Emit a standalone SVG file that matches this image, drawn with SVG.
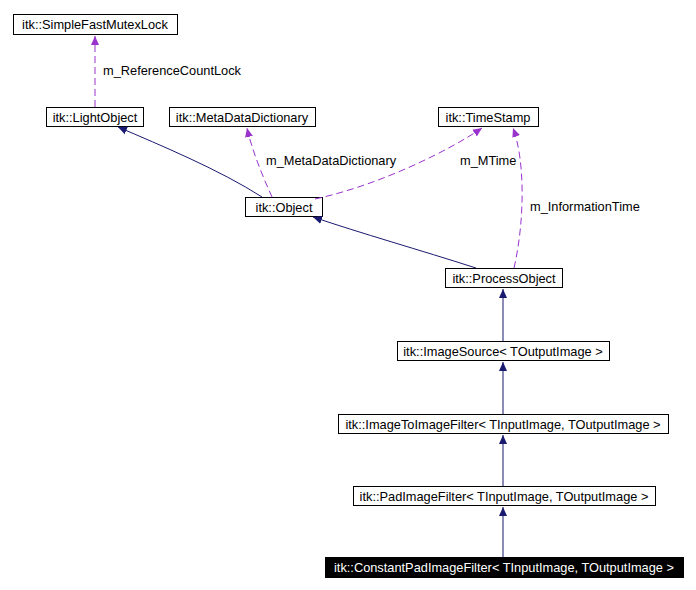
<svg xmlns="http://www.w3.org/2000/svg" width="696" height="590" viewBox="0 0 696 590">
<style>
.n rect{fill:#fff;stroke:#000;stroke-width:1}
text{font-family:"Liberation Sans",Arial,sans-serif;font-size:12.8px}
.n text{text-anchor:middle}
.inh{fill:none;stroke:#191970;stroke-width:1}
.use{fill:none;stroke:#9a32cd;stroke-width:1;stroke-dasharray:7,4}
</style>
<defs>
<marker id="ah" markerWidth="10" markerHeight="10" refX="9" refY="5" orient="auto" markerUnits="userSpaceOnUse"><path d="M0,1L9,5L0,9z" fill="#191970"/></marker>
<marker id="au" markerWidth="10" markerHeight="10" refX="9" refY="5" orient="auto" markerUnits="userSpaceOnUse"><path d="M0,1L9,5L0,9z" fill="#9a32cd"/></marker>
</defs>
<rect width="696" height="590" fill="#fff"/>
<g id="mutex" class="n"><rect x="13.5" y="14.5" width="164" height="20"/><text x="95" y="29">itk::SimpleFastMutexLock</text></g>
<g id="lightobject" class="n"><rect x="46.5" y="107.5" width="97" height="19"/><text x="95" y="122">itk::LightObject</text></g>
<g id="metadata" class="n"><rect x="169.5" y="107.5" width="146" height="19"/><text x="242" y="122">itk::MetaDataDictionary</text></g>
<g id="timestamp" class="n"><rect x="438.5" y="107.5" width="100" height="19"/><text x="488" y="122">itk::TimeStamp</text></g>
<g id="object" class="n"><rect x="245.5" y="197.5" width="77" height="19"/><text x="284" y="212">itk::Object</text></g>
<g id="processobject" class="n"><rect x="445.5" y="268.5" width="117" height="19"/><text x="504" y="283">itk::ProcessObject</text></g>
<g id="imagesource" class="n"><rect x="397.5" y="341.5" width="212" height="19"/><text x="503" y="356">itk::ImageSource&lt; TOutputImage &gt;</text></g>
<g id="imagetoimage" class="n"><rect x="338.5" y="414.5" width="330" height="19"/><text x="503" y="429">itk::ImageToImageFilter&lt; TInputImage, TOutputImage &gt;</text></g>
<g id="pad" class="n"><rect x="353.5" y="486.5" width="302" height="19"/><text x="504" y="501">itk::PadImageFilter&lt; TInputImage, TOutputImage &gt;</text></g>
<g id="constantpad" class="n"><rect x="325.5" y="557.5" width="358" height="20" style="fill:#000"/><text x="504" y="572" fill="#fff">itk::ConstantPadImageFilter&lt; TInputImage, TOutputImage &gt;</text></g>
<g id="connectors">
<path class="use" d="M95,107L95,36" marker-end="url(#au)"/>
<path class="inh" d="M262,197C220,170 160,145 118,127" marker-end="url(#ah)"/>
<path class="use" d="M272,197C262,175 252,150 247,128" marker-end="url(#au)"/>
<path class="use" d="M315,199C380,185 450,150 482,128" marker-end="url(#au)"/>
<path class="inh" d="M476,268C420,250 360,233 313,217" marker-end="url(#ah)"/>
<path class="use" d="M514,268C525,220 525,160 513,128" marker-end="url(#au)"/>
<path class="inh" d="M503,341L503,289" marker-end="url(#ah)"/>
<path class="inh" d="M503,414L503,362" marker-end="url(#ah)"/>
<path class="inh" d="M503,486L503,435" marker-end="url(#ah)"/>
<path class="inh" d="M503,557L503,507" marker-end="url(#ah)"/>
<text x="103" y="75">m_ReferenceCountLock</text>
<text x="266" y="165">m_MetaDataDictionary</text>
<text x="460" y="165">m_MTime</text>
<text x="530" y="211">m_InformationTime</text>
</g>
</svg>
